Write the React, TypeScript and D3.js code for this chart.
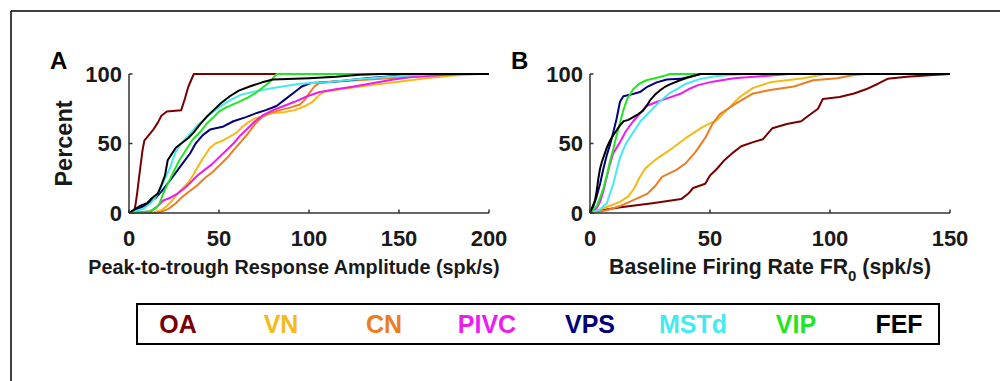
import React from "react";
import * as d3 from "d3";

type Pt = [number, number];

const regions = ["OA", "VN", "CN", "PIVC", "VPS", "MSTd", "VIP", "FEF"];
const regionColors = ["#7a0000", "#f7b917", "#ec7d22", "#ee1bee", "#00007a", "#44eaee", "#22e622", "#000000"];

const ampTicks = [0, 50, 100, 150, 200];
const rateTicks = [0, 50, 100, 150];
const pctTicks = [0, 50, 100];

// Panel A: peak-to-trough response amplitude (spk/s) vs cumulative percent
const ampOA: Pt[] = [[0,0],[3,2],[3.5,5],[4.5,14],[6,30],[7.5,45],[8.5,52],[11,56],[13.5,60],[16,65],[18,70],[21,73],[29,74],[31,82],[33,91],[36,100],[200,100]];
const ampVN: Pt[] = [[0,0],[14,0.5],[18,2],[21,5],[24,9],[27,14],[30,18],[33,22],[36,28],[39,35],[42,41],[45,47],[48,50],[52,52],[56,55],[60,58],[63,62],[66,65],[70,68],[75,70],[80,72],[86,72.5],[92,74],[98,77],[102,80],[105,84],[108,87],[112,88],[120,89.5],[135,92],[150,94.5],[165,97],[180,99],[195,100],[200,100]];
const ampCN: Pt[] = [[0,0],[15,0],[18,1],[22,3],[26,7],[30,12],[34,16],[38,20],[42,25],[46,29],[50,34],[54,39],[58,45],[62,51],[66,57],[70,64],[74,69],[78,72],[84,74],[90,76],[95,78],[98,82],[100,86],[103,91],[106,94],[120,95],[140,96.5],[160,98],[175,99.5],[185,100],[200,100]];
const ampPIVC: Pt[] = [[0,0],[12,1],[16,5],[19,9],[23,11],[27,14],[31,18],[35,23],[38,27],[42,31],[46,35],[50,40],[54,45],[58,50],[62,56],[66,61],[70,66],[74,70],[80,74],[86,77],[92,80],[99,84],[106,87],[115,89],[125,91],[136,93.5],[147,96],[158,98],[177,99.5],[185,100],[200,100]];
const ampVPS: Pt[] = [[0,0],[6,3.5],[11,7],[15,11],[19,17],[22.5,23],[26,29],[30,36],[34,43],[37,50],[41,56],[45,60],[52,62],[58,66],[65,69],[71,72],[76,74],[82,77],[86,81],[91,86],[96,91],[101,93.5],[110,94],[118,95],[132,97],[148,98.5],[162,100],[200,100]];
const ampMSTd: Pt[] = [[0,0],[8,3],[12,7],[14.5,11],[17,16],[19,22],[23,33],[25.5,43],[29,50],[34,57],[38,63],[44,70],[50,76],[56,81],[62,85],[70,87.5],[80,90],[95,93],[110,94],[125,96],[140,97.5],[155,99],[170,100],[200,100]];
const ampVIP: Pt[] = [[0,0],[11,1],[15,3.5],[17,7],[19,14],[21.5,21],[24.5,29],[28,38],[32,46],[35.5,53],[39,57.5],[43,64],[47,69],[50,73],[54,76],[61,80],[66,83],[70,86],[73,89],[78,94],[82,100],[200,100]];
const ampFEF: Pt[] = [[0,0],[6,5],[10,7],[13,11],[16,14],[18,20],[20,27],[21.5,38],[23.5,42],[26,47],[29,50],[33,54],[36,58],[39,63],[43,69],[47,74],[51,79],[56,84],[61,88],[67,91],[74,94],[80,96],[100,97],[115,98],[128,99.5],[140,100],[200,100]];

// Panel B: baseline firing rate FR0 (spk/s) vs cumulative percent
const rateOA: Pt[] = [[0,0],[5,2],[12,4],[26,7],[38,10],[41,14],[43,18],[48,21],[50,27],[53,32],[56,38],[60,44],[63,48],[68,51],[72,53],[76,61],[82,64],[88,66],[91,70],[95,75],[97,82],[104,83.5],[110,86],[115,89],[120,93],[124,96.5],[132,98],[143,99.3],[150,100]];
const rateVN: Pt[] = [[0,0],[4,2.4],[8,5],[12.5,8],[16,12],[18.5,18],[20.5,25],[23,32],[27,38],[33,45],[40,54],[47,62],[53,67],[57,74],[62,83],[68,90],[75,94],[89,97],[96,99.3],[98,100],[150,100]];
const rateCN: Pt[] = [[0,0],[7,2],[12.5,5],[19,10],[24,14],[27,19],[30,26],[36,31],[40,36],[44,44],[48,54],[51,64],[54,71],[61,79],[68,86],[75,88.5],[85,91],[93,95.5],[103,97],[110,99.3],[115,100],[150,100]];
const ratePIVC: Pt[] = [[0,0],[2.8,3.5],[4.2,8],[5.6,16],[7,26],[8.3,35],[9.7,43],[12.5,51],[15,59],[18,66],[20.5,71],[23.5,77],[28,80],[33,83],[38,86],[41,89],[45,92],[51,94.5],[60,97],[73,98.6],[83,100],[150,100]];
const rateVPS: Pt[] = [[0,0],[1.4,5],[2.8,12],[4.2,21],[5.6,32],[6.9,41],[8.3,49],[9.7,58],[11.1,68],[12.5,80],[13.9,84],[16.7,85],[20.8,87],[23.6,90.5],[27.8,94],[32,96],[37.5,96.5],[41.7,98],[46,100],[150,100]];
const rateMSTd: Pt[] = [[0,0],[4,2.4],[7,7],[8.3,14],[9.7,21],[11,30],[12.5,40],[15,50],[18,58],[21,66],[25,73],[29,80],[33,86],[36,89],[40,93],[46,96.5],[53,98.5],[60,99.5],[66,100],[150,100]];
const rateVIP: Pt[] = [[0,0],[1.4,2.4],[2.8,5],[4.2,11],[5.6,18],[7,27],[8.3,37],[9.7,46],[11.1,56],[12.5,65],[13.9,74],[15.5,82],[18,89],[20.5,93],[23.5,95.5],[27,97],[30.6,98.5],[33.3,100],[150,100]];
const rateFEF: Pt[] = [[0,0],[0.7,3],[2.1,9],[2.8,16],[3.5,25],[4.2,32],[5,37],[5.6,40],[7,47],[8.3,52],[9.7,56],[11.1,59.5],[12.5,63],[14,66],[16,67],[18,69],[20,71],[22,73.5],[23.6,77],[25,81],[27,85],[29,88],[31,90.5],[33.3,92.5],[37.5,95.5],[41.7,98],[46,100],[150,100]];

const ampSeries = [ampOA, ampVN, ampCN, ampPIVC, ampVPS, ampMSTd, ampVIP, ampFEF];
const rateSeries = [rateOA, rateVN, rateCN, ratePIVC, rateVPS, rateMSTd, rateVIP, rateFEF];

const FONT = "'Liberation Sans', Arial, sans-serif";
const AXIS = "#333333";
const TEXT = "#1a1a1a";

function Panel(props: {
  x0: number; x1: number; y0: number; y1: number;
  xMax: number; xTicks: number[]; series: Pt[][];
  letter: string; letterX: number; xLabel: React.ReactNode; xLabelX: number; xLabelSize: number; showYLabel: boolean;
}) {
  const { x0, x1, y0, y1, xMax, xTicks, series } = props;
  const xs = d3.scaleLinear().domain([0, xMax]).range([x0, x1]);
  const ys = d3.scaleLinear().domain([0, 100]).range([y0, y1]);
  const line = d3.line<Pt>().x((d) => xs(d[0])).y((d) => ys(d[1]));
  return (
    <g>
      {series.map((s, i) => (
        <path key={i} d={line(s) || ""} fill="none" stroke={regionColors[i]} strokeWidth={2} strokeLinejoin="round" />
      ))}
      <line x1={x0} x2={x1} y1={y0} y2={y0} stroke={AXIS} strokeWidth={1.5} />
      <line x1={x0} x2={x0} y1={y0} y2={y1} stroke={AXIS} strokeWidth={1.5} />
      {xTicks.map((t) => (
        <g key={"x" + t}>
          <line x1={xs(t)} x2={xs(t)} y1={y0} y2={y0 - 3.5} stroke={AXIS} strokeWidth={1.5} />
          <text x={xs(t)} y={246} textAnchor="middle" fontFamily={FONT} fontWeight="bold" fontSize={22} fill={TEXT}>{t}</text>
        </g>
      ))}
      {pctTicks.map((t) => (
        <g key={"y" + t}>
          <line x1={x0} x2={x0 + 3.5} y1={ys(t)} y2={ys(t)} stroke={AXIS} strokeWidth={1.5} />
          <text x={x0 - 7} y={ys(t)} dy="0.36em" textAnchor="end" fontFamily={FONT} fontWeight="bold" fontSize={22} fill={TEXT}>{t}</text>
        </g>
      ))}
      <text x={props.xLabelX} y={274} textAnchor="middle" fontFamily={FONT} fontWeight="bold" fontSize={props.xLabelSize} fill={TEXT}>{props.xLabel}</text>
      {props.showYLabel && (
        <text transform={`translate(72,${(y0 + y1) / 2}) rotate(-90)`} textAnchor="middle" fontFamily={FONT} fontWeight="bold" fontSize={23.5} fill={TEXT}>Percent</text>
      )}
      <text x={props.letterX} y={69} fontFamily={FONT} fontWeight="bold" fontSize={24} fill="#000">{props.letter}</text>
    </g>
  );
}

export default function App() {
  const legendX = d3.scaleLinear().domain([0, regions.length - 1]).range([178, 899]);
  return (
    <svg width={1000} height={381} style={{ position: "absolute", left: 0, top: 0, background: "#fff" }}>
      <rect x={0} y={0} width={1000} height={381} fill="#fff" />
      <line x1={11} x2={1000} y1={11} y2={11} stroke="#000" strokeWidth={1.5} />
      <line x1={11} x2={11} y1={11} y2={381} stroke="#000" strokeWidth={1.5} />
      <Panel x0={129} x1={489} y0={213} y1={74} xMax={200} xTicks={ampTicks} series={ampSeries}
        letter="A" letterX={50} showYLabel={true} xLabelX={294} xLabelSize={19.8}
        xLabel={"Peak-to-trough Response Amplitude (spk/s)"} />
      <Panel x0={590} x1={950} y0={213} y1={74} xMax={150} xTicks={rateTicks} series={rateSeries}
        letter="B" letterX={511} showYLabel={false} xLabelX={770} xLabelSize={21.3}
        xLabel={<>Baseline Firing Rate FR<tspan dy={7} fontSize={15}>0</tspan><tspan dy={-7}> (spk/s)</tspan></>} />
      <rect x={137} y={304} width={802} height={40} fill="none" stroke="#000" strokeWidth={2} />
      {regions.map((r, i) => (
        <text key={r} x={legendX(i)} y={333} textAnchor="middle" fontFamily={FONT} fontWeight="bold" fontSize={25} fill={regionColors[i]}>{r}</text>
      ))}
    </svg>
  );
}
